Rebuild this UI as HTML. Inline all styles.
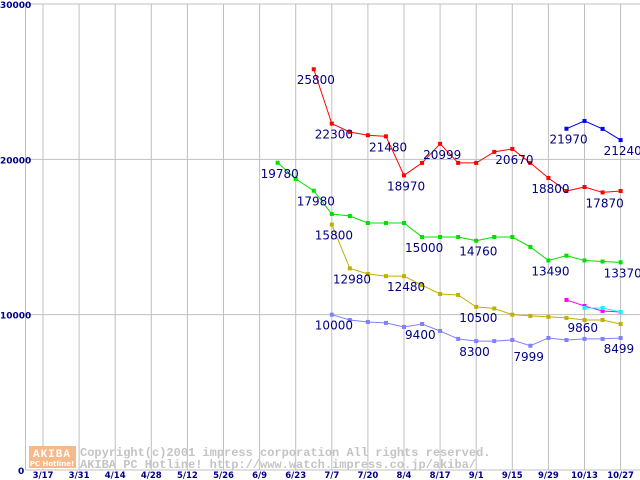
<!DOCTYPE html>
<html><head><meta charset="utf-8"><style>
html,body{margin:0;padding:0;background:#fff;}
svg{display:block;font-family:"DejaVu Sans","Liberation Sans",sans-serif;}
</style></head><body>
<svg id="chart" width="640" height="480" viewBox="0 0 640 480" xmlns="http://www.w3.org/2000/svg">
<g id="grid"></g>
<g id="axes"></g>
<g id="watermark">
  <rect x="29" y="446" width="47" height="22" fill="#f7b98a"/>
  <text x="52" y="457" font-size="11" font-weight="bold" fill="#fff" text-anchor="middle" font-family="Liberation Mono,monospace" letter-spacing="1">AKIBA</text>
  <text x="52" y="466" font-size="7" font-weight="bold" fill="#fff" text-anchor="middle">PC Hotline!</text>
  <text x="80" y="456" font-size="12" fill="#c4c4c4" font-weight="bold" font-family="Liberation Mono,monospace">Copyright(c)2001 impress corporation All rights reserved.</text>
  <text x="80" y="468" font-size="12" fill="#c4c4c4" font-weight="bold" font-family="Liberation Mono,monospace">AKIBA PC Hotline!  http://www.watch.impress.co.jp/akiba/</text>
</g>
<g id="series"></g>
<g id="labels"></g>
</svg>
<script>
const xTickLabels = ["3/17","3/31","4/14","4/28","5/12","5/26","6/9","6/23","7/7","7/20","8/4","8/17","9/1","9/15","9/29","10/13","10/27"];
const yTickLabels = ["0","10000","20000","30000"];
const yTickValues = [0,10000,20000,30000];
const redStart = 15;
const redValues = [25800,22300,21760,21550,21480,18970,19770,20999,19770,19770,20480,20670,19770,18800,17960,18220,17870,17960];
const blueStart = 29;
const blueValues = [21970,22470,21960,21240];
const greenStart = 13;
const greenValues = [19780,18740,17980,16480,16350,15900,15900,15900,15000,15000,15000,14760,15000,15000,14360,13490,13800,13490,13420,13370];
const yellowStart = 16;
const yellowValues = [15800,12980,12620,12480,12480,11900,11330,11270,10500,10400,10000,9920,9860,9790,9660,9660,9400];
const periStart = 16;
const periValues = [10000,9660,9530,9470,9210,9400,8950,8440,8300,8300,8370,7999,8500,8370,8440,8440,8499];
const magentaStart = 29;
const magentaValues = [10950,10560,10240,10170];
const cyanStart = 30;
const cyanValues = [10430,10430,10170];
const labelsRed = [[15,25800],[16,22300],[19,21480],[20,18970],[22,20999],[26,20670],[28,18800],[31,17870]];
const labelsBlue = [[29,21970],[32,21240]];
const labelsGreen = [[13,19780],[15,17980],[16,15800],[21,15000],[24,14760],[28,13490],[32,13370]];
const labelsYellow = [[17,12980],[20,12480],[24,10500],[30,9860]];
const labelsPeri = [[16,10000],[21,9400],[24,8300],[27,7999],[32,8499]];

const NS="http://www.w3.org/2000/svg";
function xW(i){return 43+18.05*i;}
function yV(v){return 470-v*155.33/10000;}
function mk(tag,attrs,parent){const e=document.createElementNS(NS,tag);for(const k in attrs)e.setAttribute(k,attrs[k]);parent.appendChild(e);return e;}
const grid=document.getElementById('grid'),axes=document.getElementById('axes'),ser=document.getElementById('series'),lab=document.getElementById('labels');
yTickValues.forEach((v,k)=>{
  const l=mk('line',{x1:25,x2:640,y1:yV(v),y2:yV(v),stroke:'#c0c0c0','stroke-width':1},grid);
  
  
  const t=mk('text',{x:k==0?18:0,y:yV(v)+4,'font-size':9,'font-weight':'bold',fill:'#000080'},axes);
  t.textContent=yTickLabels[k];
  
  
});
mk('line',{x1:25.5,x2:25.5,y1:4,y2:470,stroke:'#c0c0c0'},grid);
xTickLabels.forEach((s,k)=>{
  const x=xW(2*k);
  const l=mk('line',{x1:x,x2:x,y1:4,y2:470,stroke:'#c0c0c0','stroke-width':1},grid);
  
  
  const t=mk('text',{x:x,y:478,'font-size':8.5,'font-weight':'bold',fill:'#000080','text-anchor':'middle'},axes);
  t.textContent=s;
  
  
});
function series(start,vals,color,name){
  const pts=vals.map((v,i)=>[xW(start+i),yV(v)]);
  const p=mk('polyline',{points:pts.map(q=>q.join(',')).join(' '),fill:'none',stroke:color,'stroke-width':1},ser);
  
  
  pts.forEach(q=>{
    const r=mk('rect',{x:q[0]-2,y:q[1]-2,width:4,height:4,fill:color},ser);
    
    
  });
}
series(redStart,redValues,'#ff0000','red-series');
series(blueStart,blueValues,'#0000ff','blue-series');
series(greenStart,greenValues,'#00e000','green-series');
series(yellowStart,yellowValues,'#c0b000','olive-series');
series(periStart,periValues,'#8080ff','periwinkle-series');
series(magentaStart,magentaValues,'#ff00ff','magenta-series');
series(cyanStart,cyanValues,'#00ffff','cyan-series');
[labelsRed,labelsBlue,labelsGreen,labelsYellow,labelsPeri].forEach(arr=>arr.forEach(([i,v])=>{
  const t=mk('text',{x:xW(i)-17,y:yV(v)+15,'font-size':12,fill:'#000080'},lab);
  t.textContent=v;
  
  
}));
</script>
</body></html>
